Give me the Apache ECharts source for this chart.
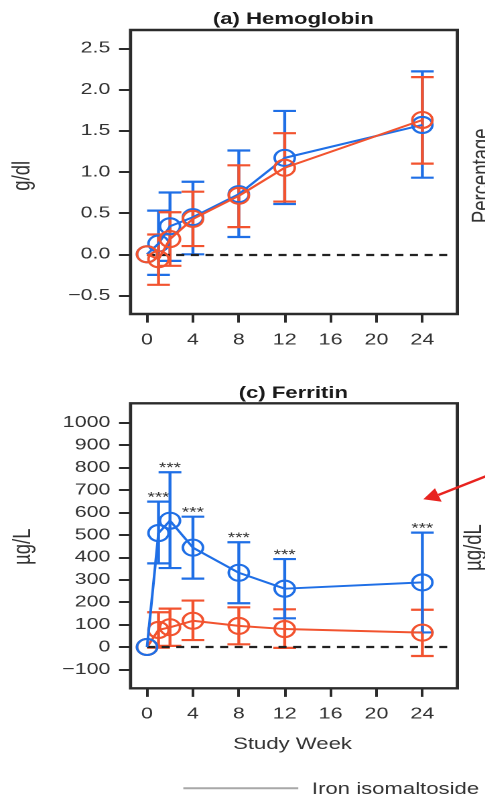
<!DOCTYPE html>
<html>
<head>
<meta charset="utf-8">
<script src="https://cdn.jsdelivr.net/npm/echarts@6/dist/echarts.min.js"></script>
<style>
  html, body { margin: 0; padding: 0; background: #fff; overflow: hidden; }
  /* the figure is laid out on a narrower canvas and widened horizontally */
  #chart { width: 362px; height: 798px; transform: scaleX(1.34); transform-origin: 0 0; }
</style>
</head>
<body>
<div id="chart"></div>
<script>
// Study weeks at which both arms were measured
const weeks = [0, 1, 2, 4, 8, 12, 24];
const weekTicks = [0, 4, 8, 12, 16, 20, 24];

// (a) Hemoglobin, change from baseline (g/dl): mean and 95% CI
const hbIso    = [0, 0.13, 0.34, 0.45, 0.73, 1.17, 1.57];
const hbIsoLo  = [0, -0.25, -0.08, 0.00, 0.21, 0.61, 0.93];
const hbIsoHi  = [0, 0.53, 0.75, 0.88, 1.26, 1.74, 2.22];
const hbOral   = [0, -0.06, 0.185, 0.43, 0.71, 1.05, 1.63];
const hbOralLo = [0, -0.37, -0.14, 0.10, 0.33, 0.64, 1.10];
const hbOralHi = [0, 0.24, 0.51, 0.76, 1.08, 1.47, 2.15];
const hbTicks  = [-0.5, 0, 0.5, 1.0, 1.5, 2.0, 2.5];

// (c) Ferritin, change from baseline (µg/L): mean and 95% CI
const ferIso    = [0, 508, 563, 443, 331, 260, 288];
const ferIsoLo  = [0, 373, 352, 305, 195, 128, 65];
const ferIsoHi  = [0, 648, 779, 581, 467, 392, 510];
const ferOral   = [0, 76, 88, 117, 94, 80, 64];
const ferOralLo = [0, -3, 5, 31, 12, -4, -40];
const ferOralHi = [0, 155, 171, 207, 177, 168, 166];
const ferTicks  = [-100, 0, 100, 200, 300, 400, 500, 600, 700, 800, 900, 1000];
const ferSig    = ['', '***', '***', '***', '***', '***', '***'];

const BLUE = '#1f6fe6';
const RED = '#f2532f';
const INK = '#2b2b2b';
const FONT = "'Liberation Sans', Arial, Helvetica, sans-serif";

const minusFmt = (digits) => (v) => {
  const s = Math.abs(v).toFixed(digits);
  return v < 0 ? '\u2212' + s : s;
};

function xAxisFor(gridIndex) {
  return {
    gridIndex, type: 'value', min: -1.44, max: 27.05,
    axisLine: { show: false, onZero: false },
    axisTick: { show: true, inside: false, length: 8.6, customValues: weekTicks,
                lineStyle: { color: INK, width: 2 } },
    axisLabel: { customValues: weekTicks, margin: 18, fontSize: 16, color: '#333', fontFamily: FONT },
    splitLine: { show: false }
  };
}

function yAxisFor(gridIndex, min, max, ticks, digits) {
  return {
    gridIndex, type: 'value', min, max,
    axisLine: { show: false, onZero: false },
    axisTick: { show: true, inside: false, length: 8.6, customValues: ticks,
                lineStyle: { color: INK, width: 2 } },
    axisLabel: { customValues: ticks, margin: 15, fontSize: 16, color: '#333', fontFamily: FONT,
                 formatter: minusFmt(digits) },
    splitLine: { show: false }
  };
}

function meanLine(idx, vals, color, z, withZero) {
  const s = {
    type: 'line', xAxisIndex: idx, yAxisIndex: idx,
    data: weeks.map((w, i) => [w, vals[i]]),
    symbol: 'circle', symbolSize: [15, 16], showSymbol: true, showAllSymbol: true,
    lineStyle: { color, width: 2 },
    itemStyle: { color: 'rgba(0,0,0,0)', borderColor: color, borderWidth: 2 },
    emphasis: { disabled: true }, silent: true, animation: false, z
  };
  if (withZero) {
    s.markLine = {
      silent: true, symbol: 'none', label: { show: false }, animation: false,
      lineStyle: { type: [6, 4.9], color: '#222', width: 2.2 },
      data: [[{ coord: [0, 0] }, { coord: [26.2, 0] }]]
    };
  }
  return s;
}

function errorBars(idx, lo, hi, color, z, marks) {
  return {
    type: 'custom', xAxisIndex: idx, yAxisIndex: idx,
    data: weeks.map((w, i) => [w, lo[i], hi[i]]),
    silent: true, animation: false, z,
    renderItem(params, api) {
      const x = api.value(0), l = api.value(1), h = api.value(2);
      if (l === h) return null;
      const pl = api.coord([x, l]);
      const ph = api.coord([x, h]);
      const hw = 8.5;
      const st = { stroke: color, lineWidth: 2.2 };
      const children = [
        { type: 'line', shape: { x1: pl[0], y1: pl[1], x2: ph[0], y2: ph[1] }, style: st },
        { type: 'line', shape: { x1: pl[0] - hw, y1: pl[1], x2: pl[0] + hw, y2: pl[1] }, style: st },
        { type: 'line', shape: { x1: ph[0] - hw, y1: ph[1], x2: ph[0] + hw, y2: ph[1] }, style: st }
      ];
      const m = marks ? marks[params.dataIndex] : '';
      if (m) {
        children.push({
          type: 'text', x: ph[0], y: ph[1] - 4,
          style: { text: m, align: 'center', verticalAlign: 'middle', fontSize: 14,
                   fontFamily: FONT, fill: '#333' }
        });
      }
      return { type: 'group', children };
    }
  };
}

function label(text, x, y, size, opts) {
  return Object.assign({
    type: 'text', x, y, silent: true,
    style: { text, fontSize: size, fontFamily: FONT, fill: '#333', align: 'center', verticalAlign: 'middle' }
  }, opts || {});
}

const chart = echarts.init(document.getElementById('chart'), null, { renderer: 'canvas', devicePixelRatio: 2 });

const gridStyle = { show: true, borderColor: INK, borderWidth: 2.4, backgroundColor: 'transparent' };

chart.setOption({
  animation: false,
  backgroundColor: '#fff',
  grid: [
    Object.assign({ left: 97.4, top: 30, width: 243.9, height: 284 }, gridStyle),
    Object.assign({ left: 97.4, top: 403.3, width: 243.9, height: 285 }, gridStyle)
  ],
  xAxis: [xAxisFor(0), xAxisFor(1)],
  yAxis: [
    yAxisFor(0, -0.7245, 2.722, hbTicks, 1),
    yAxisFor(1, -184.1, 1086.5, ferTicks, 0)
  ],
  series: [
    errorBars(0, hbIsoLo, hbIsoHi, BLUE, 2),
    errorBars(0, hbOralLo, hbOralHi, RED, 3),
    meanLine(0, hbIso, BLUE, 4, true),
    meanLine(0, hbOral, RED, 5, false),

    errorBars(1, ferOralLo, ferOralHi, RED, 2),
    errorBars(1, ferIsoLo, ferIsoHi, BLUE, 3, ferSig),
    meanLine(1, ferOral, RED, 4, true),
    meanLine(1, ferIso, BLUE, 5, false)
  ],
  graphic: [
    label('(a) Hemoglobin', 218.9, 19.3, 16.5, {}),
    label('(c) Ferritin', 218.9, 393.6, 16.5, {}),
    label('g/dl', 16.8, 175.8, 18.5, { rotation: Math.PI / 2 }),
    label('\u00b5g/L', 17.3, 546.7, 18.5, { rotation: Math.PI / 2 }),
    label('Percentage', 360.1, 175.8, 18.5, { rotation: Math.PI / 2 }),
    label('\u00b5g/dL', 353.7, 547.5, 18.5, { rotation: Math.PI / 2 }),
    label('Study Week', 218.3, 744.3, 16.5, {}),
    { type: 'line', silent: true, shape: { x1: 136.8, y1: 788.3, x2: 222.6, y2: 788.3 },
      style: { stroke: '#a8a8a8', lineWidth: 2 } },
    label('Iron isomaltoside', 232.8, 789.3, 16.5, {}),
    { type: 'line', silent: true, shape: { x1: 327.1, y1: 495, x2: 373.1, y2: 470.7 },
      style: { stroke: '#e8231f', lineWidth: 2.4 } },
    { type: 'polygon', silent: true,
      shape: { points: [[315.9, 499.3], [324.6, 488.3], [329.6, 501.7]] },
      style: { fill: '#e8231f' } }
  ]
});

// bold titles and left-aligned legend text
const opt = chart.getOption();
const g = opt.graphic[0].elements;
chart.setOption({
  graphic: [
    { id: g[0].id, style: { fontWeight: 'bold', fill: '#1a1a1a' } },
    { id: g[1].id, style: { fontWeight: 'bold', fill: '#1a1a1a' } },
    { id: g[8].id, style: { align: 'left' } }
  ]
});
</script>
</body>
</html>
